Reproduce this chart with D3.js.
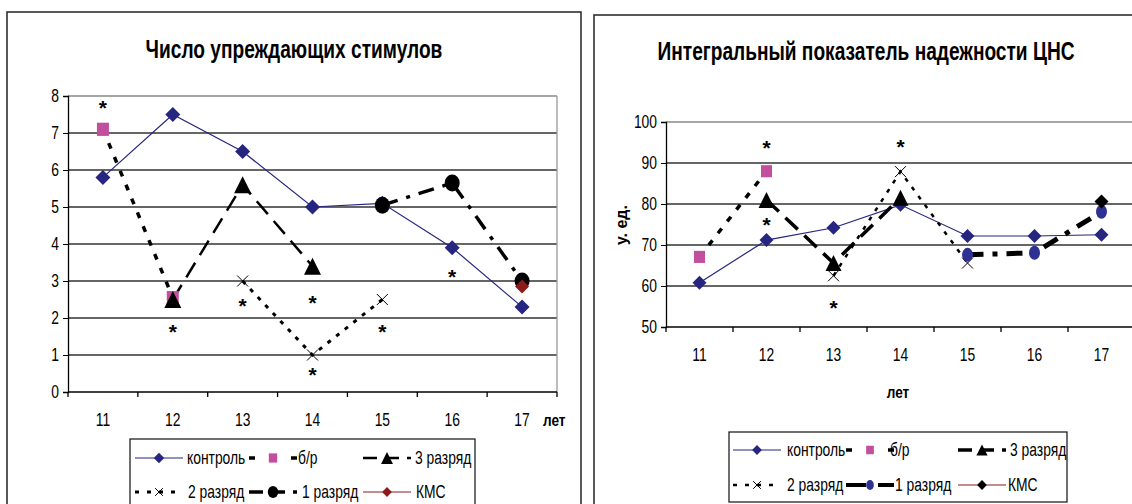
<!DOCTYPE html>
<html><head><meta charset="utf-8">
<script src="https://cdn.jsdelivr.net/npm/d3@7"></script>
<style>
body{margin:0;background:#fff;}
svg{display:block;}
text{font-family:"Liberation Sans",Arial,sans-serif;fill:#000;}
</style>
</head><body>
<svg id="c" width="1132" height="504"></svg>
<script>
// ---------- DATA ----------
const years = ["11","12","13","14","15","16","17"];
const seriesNames = ["контроль","б/р","3 разряд","2 разряд","1 разряд","КМС"];

// Chart 1: Число упреждающих стимулов
const title1 = "Число упреждающих стимулов";
const yTicks1 = [0,1,2,3,4,5,6,7,8];
const s1Control = [5.8, 7.5, 6.5, 5.0, 5.1, 3.9, 2.3];
const s1BR      = [7.1, 2.55, null, null, null, null, null];
const s1R3      = [null, 2.5, 5.6, 3.4, null, null, null];
const s1R2      = [null, null, 3.0, 1.0, 2.5, null, null];
const s1R1      = [null, null, null, null, 5.05, 5.65, 3.0];
const s1KMS     = [null, null, null, null, null, null, 2.85];
const stars1    = [[0,7.8],[1,1.75],[2,2.45],[3,2.55],[3,0.6],[4,1.75],[5,3.25]];

// Chart 2: Интегральный показатель надежности ЦНС
const title2 = "Интегральный показатель надежности ЦНС";
const yTicks2 = [50,60,70,80,90,100];
const s2Control = [60.8, 71.2, 74.2, 79.8, 72.2, 72.2, 72.5];
const s2BR      = [67.1, 88.0, null, null, null, null, null];
const s2R3      = [null, 81.0, 65.6, 81.5, null, null, null];
const s2R2      = [null, null, 62.5, 87.9, 65.6, null, null];
const s2R1      = [null, null, null, null, 67.6, 68.1, 78.1];
const s2KMS     = [null, null, null, null, null, null, 80.6];
const stars2    = [[1,94.9],[1,76.0],[2,55.8],[3,95.2]];

// ---------- DRAWING ----------
const svg = d3.select("#c");
const FS = 18;

function markerPath(type, s){
  const h = s/2;
  if(type==="diamond") return `M0,${-h}L${h},0L0,${h}L${-h},0Z`;
  if(type==="square") return `M${-h},${-h*1.1}H${h}V${h*1.1}H${-h}Z`;
  if(type==="triangle") return `M0,${-h}L${h},${h}L${-h},${h}Z`;
  if(type==="x") return `M${-h},${-h}L${h},${h}M${-h},${h}L${h},${-h}`;
  return "";
}

function drawMarker(g, type, x, y, size, fill){
  if(type==="circle"){
    g.append("ellipse").attr("cx",x).attr("cy",y).attr("rx",size.rx).attr("ry",size.ry).attr("fill",fill);
  } else if(type==="x"){
    g.append("path").attr("transform",`translate(${x},${y})`).attr("d",markerPath("x",size))
      .attr("fill","none").attr("stroke","#000").attr("stroke-width",1);
  } else {
    g.append("path").attr("transform",`translate(${x},${y})`).attr("d",markerPath(type,size)).attr("fill",fill);
  }
}

function drawChart(cfg){
  const g = svg.append("g");
  g.append("rect").attr("x",cfg.panel[0]).attr("y",cfg.panel[1]).attr("width",cfg.panel[2]).attr("height",cfg.panel[3])
    .attr("fill","#fff").attr("stroke","#222").attr("stroke-width",1.5);
  g.append("text").attr("x",cfg.titlePos[0]).attr("y",cfg.titlePos[1]).attr("text-anchor","middle")
    .attr("font-size",25).attr("font-weight","bold").attr("data-sc",0.765).text(cfg.title);

  const x = d3.scaleBand().domain(years).range([cfg.plot.l, cfg.plot.r]).padding(0);
  const y = d3.scaleLinear().domain(cfg.domain).range([cfg.plot.b, cfg.plot.t]);

  g.append("g").selectAll("line").data(cfg.yTicks.slice(1)).join("line")
    .attr("x1",cfg.plot.l).attr("x2",cfg.plot.r).attr("y1",d=>y(d)).attr("y2",d=>y(d))
    .attr("stroke",d=>d===cfg.domain[1]?"#888":"#333").attr("stroke-width",1.3);
  g.append("line").attr("x1",cfg.plot.r).attr("x2",cfg.plot.r).attr("y1",cfg.plot.t).attr("y2",cfg.plot.b)
    .attr("stroke","#999").attr("stroke-width",1.3);

  const ya = g.append("g").attr("transform",`translate(${cfg.plot.l},0)`)
    .call(d3.axisLeft(y).tickValues(cfg.yTicks).tickSize(5).tickPadding(4).tickFormat(d3.format("d")));
  ya.select(".domain").attr("stroke","#000").attr("stroke-width",1.3);
  ya.selectAll(".tick line").attr("stroke","#000");
  ya.selectAll("text").attr("font-size",FS).attr("font-family",null);

  g.append("line").attr("x1",cfg.plot.l).attr("x2",cfg.plot.r).attr("y1",cfg.plot.b).attr("y2",cfg.plot.b)
    .attr("stroke","#000").attr("stroke-width",1.3);
  const bounds = years.map(d=>x(d)).concat([x(years[years.length-1])+x.bandwidth()]);
  g.append("g").selectAll("line").data(bounds).join("line")
    .attr("x1",d=>d).attr("x2",d=>d).attr("y1",cfg.plot.b).attr("y2",cfg.plot.b+5)
    .attr("stroke","#000").attr("stroke-width",1.3);
  g.append("g").selectAll("text").data(years).join("text")
    .attr("x",d=>x(d)+x.bandwidth()/2).attr("y",cfg.xLabelY).attr("text-anchor","middle")
    .attr("font-size",FS).text(d=>d);
  g.append("text").attr("x",cfg.xTitle[0]).attr("y",cfg.xTitle[1]).attr("text-anchor",cfg.xTitle[2])
    .attr("font-size",16).attr("font-weight","bold").attr("data-sc",0.85).text("лет");
  if(cfg.yTitle){
    g.append("text").attr("transform",`translate(${cfg.yTitle[0]},${cfg.yTitle[1]}) rotate(-90)`)
      .attr("text-anchor","middle").attr("font-size",16).attr("font-weight","bold")
      .attr("data-sc","none").text("у. ед.");
  }

  const cx = i => x(years[i]) + x.bandwidth()/2;
  const line = d3.line().defined(d=>d!=null).x((d,i)=>cx(i)).y(d=>y(d));

  cfg.series.forEach(s=>{
    if(s.stroke){
      const pts = s.values.filter(v=>v!=null);
      if(pts.length>1){
        g.append("path").attr("d",line(s.values)).attr("fill","none").attr("stroke",s.stroke)
          .attr("stroke-width",s.width).attr("stroke-dasharray",s.dash||null).attr("stroke-linecap","butt");
      }
    }
  });
  cfg.series.forEach(s=>{
    s.values.forEach((v,i)=>{ if(v!=null) drawMarker(g, s.marker, cx(i), y(v), s.msize, s.mfill); });
  });
  g.append("g").selectAll("text").data(cfg.stars).join("text")
    .attr("x",d=>cx(d[0])).attr("y",d=>y(d[1])+12).attr("text-anchor","middle")
    .attr("font-size",21).attr("font-weight","bold").attr("data-sc","none").text("*");

  const L = cfg.legend;
  g.append("rect").attr("x",L.x).attr("y",L.y).attr("width",L.w).attr("height",L.h)
    .attr("fill","#fff").attr("stroke","#222").attr("stroke-width",1.3);
  cfg.series.forEach((s,k)=>{
    const col = k%3, row = Math.floor(k/3);
    const sx = L.x + L.cols[col], sy = L.rows[row];
    const lg = g.append("g");
    lg.append("line").attr("x1",sx).attr("x2",sx+L.sampleW).attr("y1",sy).attr("y2",sy)
      .attr("stroke",s.stroke||s.legendStroke).attr("stroke-width",Math.min(s.width||1,4))
      .attr("stroke-dasharray",s.legendDash!==undefined?s.legendDash:(s.dash||null));
    const ms = s.marker==="circle"?{rx:s.msize.rx*0.7,ry:s.msize.ry*0.7}:s.msize*0.7;
    drawMarker(lg, s.marker, sx+L.sampleW/2, sy, ms, s.mfill);
    lg.append("text").attr("x",sx+L.textOff[row][col]).attr("y",sy+6.5).attr("font-size",FS).text(seriesNames[k]);
  });
}

const navy = "#262680";

drawChart({
  panel:[7,12,574,520],
  title:title1, titlePos:[294,58],
  plot:{l:68,r:557,t:96,b:392},
  domain:[0,8], yTicks:yTicks1,
  xLabelY:426, xTitle:[543,426,"start"],
  stars:stars1,
  series:[
    {values:s1Control, stroke:navy, width:1.2, marker:"diamond", msize:15, mfill:navy},
    {values:s1BR, stroke:"#000", width:3.5, dash:"6,9", marker:"square", msize:12, mfill:"#c24f9e", legendDash:"6,15"},
    {values:s1R3, stroke:"#000", width:2.5, dash:"17,9", marker:"triangle", msize:17, mfill:"#000", legendDash:"14,8"},
    {values:s1R2, stroke:"#000", width:3, dash:"4,7", marker:"x", msize:11, mfill:"#000", legendDash:"4,8"},
    {values:s1R1, stroke:"#000", width:3.5, dash:"16,9,4,9", marker:"circle", msize:{rx:7.5,ry:8.5}, mfill:"#000", legendDash:"14,8"},
    {values:s1KMS, stroke:null, legendStroke:"#8b1a1a", width:1.2, marker:"diamond", msize:14, mfill:"#8b1a1a"}
  ],
  legend:{x:130,y:439,w:345,h:80,cols:[5,119,233],rows:[458,492],sampleW:48,textOff:[[52,49,52],[53,53,53]]}
});

drawChart({
  panel:[594,15,560,510],
  title:title2, titlePos:[866,60],
  plot:{l:666,r:1135,t:122,b:327},
  domain:[50,100], yTicks:yTicks2,
  xLabelY:361, xTitle:[898,398,"middle"], yTitle:[627,225],
  stars:stars2,
  series:[
    {values:s2Control, stroke:navy, width:1.2, marker:"diamond", msize:14, mfill:navy},
    {values:s2BR, stroke:"#000", width:3.5, dash:"6,9", marker:"square", msize:11, mfill:"#c24f9e", legendDash:"6,15"},
    {values:s2R3, stroke:"#000", width:3.5, dash:"17,9", marker:"triangle", msize:16, mfill:"#000", legendDash:"14,8"},
    {values:s2R2, stroke:"#000", width:2.5, dash:"4,7", marker:"x", msize:11, mfill:"#000", legendDash:"4,8"},
    {values:s2R1, stroke:"#000", width:5, dash:"16,9,5,9", marker:"circle", msize:{rx:5.5,ry:7}, mfill:"#2e3192", legendDash:"20,12"},
    {values:s2KMS, stroke:null, legendStroke:"#8b1a1a", width:1.2, marker:"diamond", msize:14, mfill:"#000"}
  ],
  legend:{x:729,y:432,w:338,h:70,cols:[4,117,229],rows:[450,485],sampleW:48,textOff:[[54,44,52],[54,49,50]]}
});

// condense text horizontally (Arial Narrow look) around each text's anchor x
svg.selectAll("text").each(function(){
  const sc = this.getAttribute("data-sc");
  if(sc==="none") return;
  const s = sc ? +sc : 0.77;
  const x0 = +(this.getAttribute("x")||0);
  this.setAttribute("transform",`translate(${x0},0) scale(${s},1) translate(${-x0},0)`);
});
</script>
</body></html>
